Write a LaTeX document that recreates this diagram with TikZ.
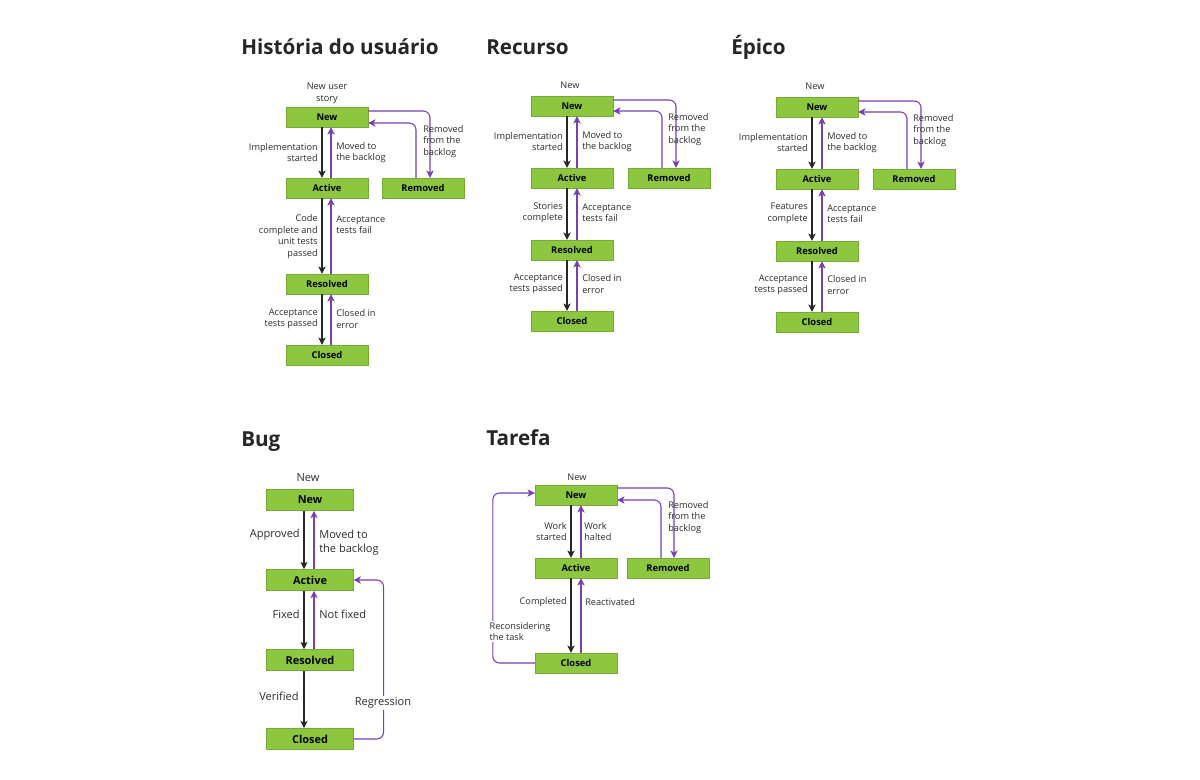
\documentclass[tikz,border=0pt]{standalone}
\usepackage{fontspec}
\setmainfont{Open Sans}
\usetikzlibrary{arrows.meta}
\definecolor{StateGreen}{RGB}{141,198,63}
\definecolor{BackPurple}{RGB}{118,66,178}
\definecolor{LabelGrey}{RGB}{45,45,45}
\tikzset{
  state box/.style={
    fill=StateGreen,
    draw=StateGreen!85!black,
    line width=0.3pt,
    inner sep=0pt,
    minimum width=61.5pt,
    minimum height=15pt,
    font=\fontsize{7}{8}\selectfont\bfseries,
  },
  state big/.style={
    state box,
    minimum width=65pt,
    minimum height=16pt,
    font=\fontsize{8.2}{9}\selectfont\bfseries,
  },
  title/.style={
    anchor=base west,
    inner sep=0pt,
    font=\fontsize{15.5}{18}\selectfont\bfseries,
    text=black!85,
  },
  lbl/.style={
    inner sep=0pt,
    text=LabelGrey,
    font=\fontsize{6.9}{8.6}\selectfont,
  },
  lbl big/.style={
    lbl,
    font=\fontsize{8.3}{11}\selectfont,
  },
  lbl left/.style={lbl, anchor=east, align=right},
  lbl right/.style={lbl, anchor=west, align=left},
  fwd/.style={
    draw=black!85,
    line width=0.8pt,
    -{Stealth[length=5.5pt,width=5.5pt,inset=1.5pt]},
  },
  back/.style={
    draw=BackPurple,
    line width=0.8pt,
    rounded corners=5pt,
    -{Stealth[length=5.5pt,width=5.5pt,inset=1.5pt]},
  },
}

\begin{document}
\begin{tikzpicture}[x=0.75pt, y=-0.75pt]
  \fill[white] (0,0) rectangle (1200,780);
  \path[use as bounding box] (0,0) rectangle (1200,780);

  % Historia do usuario
  \node[title] (hTitle) at (241,55) {História do usuário};
  \node[state box] (hNew) at (327,117) {New};
  \node[state box] (hAct) at (327,188) {Active};
  \node[state box] (hRem) at (423,188) {Removed};
  \node[state box] (hRes) at (327,284) {Resolved};
  \node[state box] (hClo) at (327,355) {Closed};
  \node[lbl, align=center] (hStart) at (327,93.5) {New user\\story};
  \draw[fwd]  ([shift={(-5,0)}]hNew.south) -- ([shift={(-5,0)}]hAct.north);
  \draw[back] ([shift={(4,0)}]hAct.north) -- ([shift={(4,0)}]hNew.south);
  \draw[fwd]  ([shift={(-5,0)}]hAct.south) -- ([shift={(-5,0)}]hRes.north);
  \draw[back] ([shift={(4,0)}]hRes.north) -- ([shift={(4,0)}]hAct.south);
  \draw[fwd]  ([shift={(-5,0)}]hRes.south) -- ([shift={(-5,0)}]hClo.north);
  \draw[back] ([shift={(4,0)}]hClo.north) -- ([shift={(4,0)}]hRes.south);
  \draw[back] ([shift={(0,-6)}]hNew.east) -| ([shift={(7,0)}]hRem.north);
  \draw[back] ([shift={(-7,0)}]hRem.north) |- ([shift={(0,6)}]hNew.east);
  \node[lbl left]  (hL1) at (318,152.5) {Implementation\\started};
  \node[lbl right] (hR1) at (336,152.5) {Moved to\\the backlog};
  \node[lbl left]  (hL2) at (318,236.5) {Code\\complete and\\unit tests\\passed};
  \node[lbl right] (hR2) at (336,224.5) {Acceptance\\tests fail};
  \node[lbl left]  (hL3) at (318,319) {Acceptance\\tests passed};
  \node[lbl right] (hR3) at (336,319) {Closed in\\error};
  \node[lbl right] (hRm) at (423,141.5) {Removed\\from the\\backlog};

  % Recurso
  \node[title] (rTitle) at (486,55) {Recurso};
  \node[state box] (rNew) at (572,106) {New};
  \node[state box] (rAct) at (572,178) {Active};
  \node[state box] (rRem) at (669,178) {Removed};
  \node[state box] (rRes) at (572,250) {Resolved};
  \node[state box] (rClo) at (572,321) {Closed};
  \node[lbl] (rStart) at (570,85) {New};
  \draw[fwd]  ([shift={(-5,0)}]rNew.south) -- ([shift={(-5,0)}]rAct.north);
  \draw[back] ([shift={(5,0)}]rAct.north) -- ([shift={(5,0)}]rNew.south);
  \draw[fwd]  ([shift={(-5,0)}]rAct.south) -- ([shift={(-5,0)}]rRes.north);
  \draw[back] ([shift={(5,0)}]rRes.north) -- ([shift={(5,0)}]rAct.south);
  \draw[fwd]  ([shift={(-5,0)}]rRes.south) -- ([shift={(-5,0)}]rClo.north);
  \draw[back] ([shift={(5,0)}]rClo.north) -- ([shift={(5,0)}]rRes.south);
  \draw[back] ([shift={(0,-6)}]rNew.east) -| ([shift={(7,0)}]rRem.north);
  \draw[back] ([shift={(-7,0)}]rRem.north) |- ([shift={(0,5)}]rNew.east);
  \node[lbl left]  (rL1) at (563,141.5) {Implementation\\started};
  \node[lbl right] (rR1) at (582,141.5) {Moved to\\the backlog};
  \node[lbl left]  (rL2) at (563,212.5) {Stories\\complete};
  \node[lbl right] (rR2) at (582,212.5) {Acceptance\\tests fail};
  \node[lbl left]  (rL3) at (563,284) {Acceptance\\tests passed};
  \node[lbl right] (rR3) at (582,284) {Closed in\\error};
  \node[lbl right] (rRm) at (668,129.5) {Removed\\from the\\backlog};

  % Epico
  \node[title] (eTitle) at (731,55) {Épico};
  \node[state box] (eNew) at (817,107) {New};
  \node[state box] (eAct) at (817,179) {Active};
  \node[state box] (eRem) at (914,179) {Removed};
  \node[state box] (eRes) at (817,251) {Resolved};
  \node[state box] (eClo) at (817,322) {Closed};
  \node[lbl] (eStart) at (815,86) {New};
  \draw[fwd]  ([shift={(-5,0)}]eNew.south) -- ([shift={(-5,0)}]eAct.north);
  \draw[back] ([shift={(5,0)}]eAct.north) -- ([shift={(5,0)}]eNew.south);
  \draw[fwd]  ([shift={(-5,0)}]eAct.south) -- ([shift={(-5,0)}]eRes.north);
  \draw[back] ([shift={(5,0)}]eRes.north) -- ([shift={(5,0)}]eAct.south);
  \draw[fwd]  ([shift={(-5,0)}]eRes.south) -- ([shift={(-5,0)}]eClo.north);
  \draw[back] ([shift={(5,0)}]eClo.north) -- ([shift={(5,0)}]eRes.south);
  \draw[back] ([shift={(0,-6)}]eNew.east) -| ([shift={(7,0)}]eRem.north);
  \draw[back] ([shift={(-7,0)}]eRem.north) |- ([shift={(0,5)}]eNew.east);
  \node[lbl left]  (eL1) at (808,142.5) {Implementation\\started};
  \node[lbl right] (eR1) at (827,142.5) {Moved to\\the backlog};
  \node[lbl left]  (eL2) at (808,213.5) {Features\\complete};
  \node[lbl right] (eR2) at (827,213.5) {Acceptance\\tests fail};
  \node[lbl left]  (eL3) at (808,285) {Acceptance\\tests passed};
  \node[lbl right] (eR3) at (827,285) {Closed in\\error};
  \node[lbl right] (eRm) at (913,130.5) {Removed\\from the\\backlog};

  % Bug
  \node[title] (bTitle) at (241,447) {Bug};
  \node[state big] (bNew) at (310,500) {New};
  \node[state big] (bAct) at (310,580) {Active};
  \node[state big] (bRes) at (310,660) {Resolved};
  \node[state big] (bClo) at (310,739) {Closed};
  \node[lbl big] (bStart) at (308,478) {New};
  \draw[fwd]  ([shift={(-6,0)}]bNew.south) -- ([shift={(-6,0)}]bAct.north);
  \draw[back] ([shift={(4,0)}]bAct.north) -- ([shift={(4,0)}]bNew.south);
  \draw[fwd]  ([shift={(-6,0)}]bAct.south) -- ([shift={(-6,0)}]bRes.north);
  \draw[back] ([shift={(4,0)}]bRes.north) -- ([shift={(4,0)}]bAct.south);
  \draw[fwd]  ([shift={(-6,0)}]bRes.south) -- ([shift={(-6,0)}]bClo.north);
  \draw[back] (bClo.east) -- ++(30,0) |- (bAct.east);
  \node[lbl big, anchor=east] (bL1) at (300,535) {Approved};
  \node[lbl big, anchor=west, align=left] (bR1) at (319,542.5) {Moved to\\the backlog};
  \node[lbl big, anchor=east] (bL2) at (300,614) {Fixed};
  \node[lbl big, anchor=west] (bR2) at (319,614) {Not fixed};
  \node[lbl big, anchor=east] (bL3) at (299,696) {Verified};
  \node[lbl big, fill=white, inner sep=1pt] (bRg) at (383,703) {Regression};

  % Tarefa
  \node[title] (tTitle) at (486,446) {Tarefa};
  \node[state box] (tNew) at (576,495) {New};
  \node[state box] (tAct) at (576,568) {Active};
  \node[state box] (tRem) at (668,568) {Removed};
  \node[state box] (tClo) at (576,663) {Closed};
  \node[lbl] (tStart) at (577,477) {New};
  \draw[fwd]  ([shift={(-5,0)}]tNew.south) -- ([shift={(-5,0)}]tAct.north);
  \draw[back] ([shift={(5,0)}]tAct.north) -- ([shift={(5,0)}]tNew.south);
  \draw[fwd]  ([shift={(-5,0)}]tAct.south) -- ([shift={(-5,0)}]tClo.north);
  \draw[back] ([shift={(5,0)}]tClo.north) -- ([shift={(5,0)}]tAct.south);
  \draw[back] ([shift={(0,-7)}]tNew.east) -| ([shift={(6,0)}]tRem.north);
  \draw[back] ([shift={(-7,0)}]tRem.north) |- ([shift={(0,5)}]tNew.east);
  \draw[back] (tClo.west) -- ++(-42,0) |- ([shift={(0,-2)}]tNew.west);
  \node[lbl left]  (tL1) at (567,531.5) {Work\\started};
  \node[lbl right] (tR1) at (584,531.5) {Work\\halted};
  \node[lbl left]  (tL2) at (567,602) {Completed};
  \node[lbl right] (tR2) at (585,602) {Reactivated};
  \node[lbl right, fill=white, inner sep=1pt] (tRc) at (488,631.5) {Reconsidering\\the task};
  \node[lbl right] (tRm) at (668,517.5) {Removed\\from the\\backlog};
\end{tikzpicture}
\end{document}
